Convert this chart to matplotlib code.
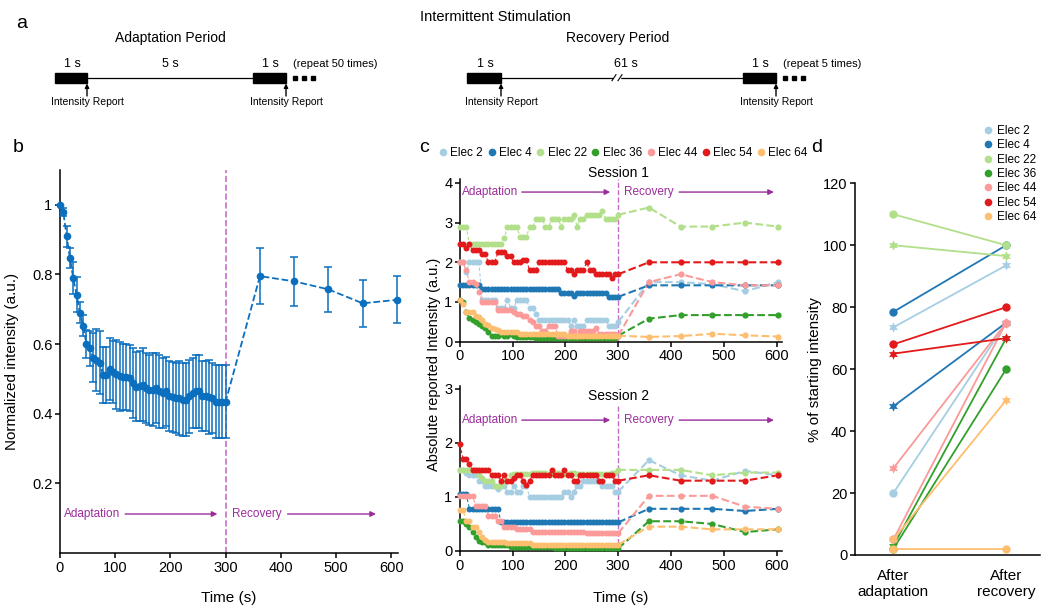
import matplotlib.pyplot as plt
from matplotlib.patches import Rectangle
from matplotlib.lines import Line2D
import numpy as np

plt.rcParams['font.family'] = ['Liberation Sans', 'DejaVu Sans']

# ---- panel b: normalized intensity averaged over electrodes ----
b_adapt_time = np.arange(0, 301, 6)          # one report every 6 s
b_rec_time = [362, 424, 486, 548, 610]
b_adapt_mean = [1.0, 0.98, 0.91, 0.847, 0.79, 0.742, 0.69, 0.652, 0.60, 0.588,
                0.561, 0.554, 0.547, 0.511, 0.511, 0.528, 0.52, 0.513, 0.507, 0.505,
                0.505, 0.502, 0.488, 0.478, 0.48, 0.483, 0.473, 0.469, 0.469, 0.473,
                0.464, 0.459, 0.464, 0.45, 0.448, 0.445, 0.445, 0.44, 0.44, 0.45,
                0.459, 0.464, 0.464, 0.45, 0.45, 0.448, 0.445, 0.435, 0.435, 0.435,
                0.435]
b_adapt_err = [0.0, 0.012, 0.03, 0.03, 0.045, 0.05, 0.03, 0.03, 0.04, 0.05,
               0.07, 0.09, 0.09, 0.08, 0.08, 0.09, 0.09, 0.1, 0.1, 0.095,
               0.095, 0.095, 0.1, 0.1, 0.1, 0.105, 0.1, 0.1, 0.105, 0.1,
               0.105, 0.1, 0.1, 0.1, 0.1, 0.1, 0.105, 0.105, 0.105, 0.105,
               0.1, 0.105, 0.105, 0.1, 0.1, 0.105, 0.1, 0.105, 0.105, 0.105,
               0.105]
b_rec_mean = [0.795, 0.78, 0.757, 0.717, 0.727]
b_rec_err = [0.08, 0.071, 0.065, 0.068, 0.067]

# ---- panel c: absolute reported intensity per electrode ----
elec_labels = ['Elec 2', 'Elec 4', 'Elec 22', 'Elec 36', 'Elec 44', 'Elec 54', 'Elec 64']
elec_colors = ['#a6cee3', '#1f78b4', '#b2df8a', '#33a02c', '#fb9a99', '#e31a1c', '#fdbf6f']
c_adapt_time = np.arange(0, 301, 6)
c_rec_time = [358, 418, 478, 540, 602]

s1_e2 = [2.0, 2.0, 1.75, 2.0, 2.0, 2.0, 2.0, 1.05, 1.05, 1.05,
         1.05, 1.05, 0.85, 0.85, 0.85, 1.05, 0.85, 0.85, 1.05, 1.05,
         1.05, 1.05, 0.85, 0.85, 0.7, 0.55, 0.55, 0.55, 0.55, 0.55,
         0.55, 0.55, 0.55, 0.55, 0.55, 0.4, 0.55, 0.4, 0.4, 0.4,
         0.55, 0.55, 0.55, 0.55, 0.55, 0.55, 0.55, 0.4, 0.4, 0.4,
         0.5]
s1_e4 = [1.42, 1.42, 1.42, 1.42, 1.42, 1.42, 1.42, 1.33, 1.33, 1.33,
         1.33, 1.33, 1.33, 1.33, 1.33, 1.33, 1.33, 1.33, 1.33, 1.33,
         1.33, 1.33, 1.33, 1.33, 1.33, 1.33, 1.33, 1.33, 1.33, 1.33,
         1.33, 1.33, 1.22, 1.22, 1.22, 1.22, 1.15, 1.22, 1.22, 1.22,
         1.22, 1.22, 1.22, 1.22, 1.22, 1.22, 1.22, 1.13, 1.13, 1.13,
         1.13]
s1_e22 = [2.9, 2.9, 2.9, 2.45, 2.45, 2.45, 2.45, 2.45, 2.45, 2.45,
          2.45, 2.45, 2.45, 2.45, 2.6, 2.9, 2.9, 2.9, 2.9, 2.63,
          2.63, 2.63, 2.9, 2.9, 3.1, 3.1, 3.1, 2.9, 2.9, 3.1,
          3.1, 3.1, 2.9, 3.1, 3.1, 3.1, 3.2, 2.9, 3.1, 3.1,
          3.2, 3.2, 3.2, 3.2, 3.2, 3.3, 3.1, 3.1, 3.1, 3.1,
          3.2]
s1_e36 = [1.05, 1.0, 0.75, 0.6, 0.55, 0.5, 0.45, 0.4, 0.35, 0.25,
          0.15, 0.15, 0.15, 0.2, 0.15, 0.15, 0.2, 0.15, 0.12, 0.12,
          0.12, 0.12, 0.12, 0.12, 0.1, 0.1, 0.1, 0.1, 0.1, 0.1,
          0.1, 0.1, 0.1, 0.1, 0.1, 0.08, 0.08, 0.08, 0.08, 0.08,
          0.08, 0.08, 0.08, 0.08, 0.08, 0.08, 0.08, 0.08, 0.08, 0.08,
          0.15]
s1_e44 = [2.0, 2.0, 1.8, 1.5, 1.5, 1.45, 1.25, 1.0, 1.0, 1.0,
          1.0, 1.0, 0.8, 0.8, 0.8, 0.8, 0.8, 0.75, 0.7, 0.7,
          0.65, 0.65, 0.55, 0.5, 0.4, 0.4, 0.27, 0.27, 0.4, 0.4,
          0.4, 0.15, 0.15, 0.15, 0.15, 0.27, 0.27, 0.15, 0.27, 0.27,
          0.27, 0.27, 0.27, 0.35, 0.2, 0.2, 0.2, 0.2, 0.2, 0.2,
          0.15]
s1_e54 = [2.45, 2.45, 2.35, 2.45, 2.3, 2.3, 2.3, 2.2, 2.2, 2.0,
          2.0, 2.0, 2.25, 2.25, 2.25, 2.15, 2.15, 2.0, 2.0, 2.0,
          2.05, 2.05, 1.8, 1.8, 1.8, 2.0, 2.0, 2.0, 2.0, 2.0,
          2.0, 2.0, 2.0, 2.0, 1.8, 1.8, 1.7, 1.8, 1.8, 1.8,
          2.0, 1.8, 1.8, 1.7, 1.7, 1.7, 1.7, 1.7, 1.6, 1.7,
          1.7]
s1_e64 = [1.05, 0.95, 0.75, 0.75, 0.75, 0.65, 0.62, 0.55, 0.45, 0.42,
          0.35, 0.33, 0.3, 0.25, 0.25, 0.25, 0.25, 0.25, 0.25, 0.2,
          0.2, 0.2, 0.2, 0.2, 0.2, 0.2, 0.2, 0.2, 0.2, 0.2,
          0.2, 0.2, 0.2, 0.2, 0.15, 0.15, 0.15, 0.15, 0.15, 0.15,
          0.15, 0.15, 0.15, 0.15, 0.15, 0.15, 0.15, 0.15, 0.15, 0.15,
          0.15]

s1_rec_e2 = [1.5, 1.5, 1.45, 1.27, 1.5]
s1_rec_e4 = [1.42, 1.42, 1.42, 1.42, 1.42]
s1_rec_e22 = [3.38, 2.9, 2.9, 3.0, 2.9]
s1_rec_e36 = [0.58, 0.67, 0.67, 0.67, 0.67]
s1_rec_e44 = [1.5, 1.7, 1.5, 1.42, 1.42]
s1_rec_e54 = [2.0, 2.0, 2.0, 2.0, 2.0]
s1_rec_e64 = [0.12, 0.14, 0.2, 0.16, 0.13]

s2_e2 = [1.5, 1.5, 1.45, 1.4, 1.4, 1.4, 1.3, 1.3, 1.2, 1.2,
         1.2, 1.2, 1.15, 1.2, 1.2, 1.1, 1.1, 1.2, 1.1, 1.1,
         1.2, 1.2, 1.0, 1.0, 1.0, 1.0, 1.0, 1.0, 1.0, 1.0,
         1.0, 1.0, 1.0, 1.1, 1.1, 1.0, 1.1, 1.2, 1.2, 1.3,
         1.3, 1.3, 1.3, 1.3, 1.3, 1.2, 1.2, 1.2, 1.2, 1.1,
         1.1]
s2_e4 = [1.05, 1.05, 1.05, 0.78, 0.78, 0.78, 0.78, 0.78, 0.78, 0.78,
         0.78, 0.78, 0.78, 0.53, 0.53, 0.53, 0.53, 0.53, 0.53, 0.53,
         0.53, 0.53, 0.53, 0.53, 0.53, 0.53, 0.53, 0.53, 0.53, 0.53,
         0.53, 0.53, 0.53, 0.53, 0.53, 0.53, 0.53, 0.53, 0.53, 0.53,
         0.53, 0.53, 0.53, 0.53, 0.53, 0.53, 0.53, 0.53, 0.53, 0.53,
         0.53]
s2_e22 = [1.5, 1.5, 1.5, 1.5, 1.5, 1.5, 1.4, 1.35, 1.3, 1.3,
          1.3, 1.2, 1.2, 1.2, 1.3, 1.3, 1.4, 1.42, 1.42, 1.42,
          1.42, 1.42, 1.42, 1.45, 1.45, 1.45, 1.45, 1.45, 1.42, 1.42,
          1.45, 1.45, 1.42, 1.42, 1.42, 1.45, 1.45, 1.42, 1.42, 1.42,
          1.42, 1.42, 1.42, 1.42, 1.42, 1.42, 1.42, 1.42, 1.45, 1.45,
          1.5]
s2_e36 = [0.55, 0.55, 0.5, 0.45, 0.35, 0.25, 0.18, 0.17, 0.17, 0.12,
          0.12, 0.12, 0.12, 0.12, 0.12, 0.12, 0.08, 0.08, 0.08, 0.08,
          0.08, 0.08, 0.08, 0.08, 0.08, 0.08, 0.08, 0.08, 0.08, 0.08,
          0.05, 0.05, 0.05, 0.05, 0.05, 0.05, 0.05, 0.05, 0.05, 0.05,
          0.05, 0.05, 0.05, 0.05, 0.05, 0.05, 0.05, 0.05, 0.05, 0.05,
          0.05]
s2_e44 = [1.02, 1.02, 1.02, 1.02, 1.02, 0.83, 0.83, 0.83, 0.83, 0.65,
          0.65, 0.65, 0.55, 0.55, 0.45, 0.45, 0.45, 0.45, 0.4, 0.4,
          0.4, 0.4, 0.4, 0.35, 0.35, 0.35, 0.35, 0.35, 0.35, 0.35,
          0.35, 0.35, 0.35, 0.35, 0.35, 0.35, 0.35, 0.35, 0.35, 0.35,
          0.33, 0.33, 0.33, 0.33, 0.33, 0.33, 0.33, 0.33, 0.33, 0.33,
          0.33]
s2_e54 = [1.97, 1.7, 1.7, 1.6, 1.5, 1.5, 1.5, 1.5, 1.5, 1.5,
          1.4, 1.4, 1.4, 1.3, 1.4, 1.3, 1.3, 1.35, 1.4, 1.4,
          1.3, 1.22, 1.3, 1.4, 1.4, 1.4, 1.4, 1.4, 1.4, 1.5,
          1.4, 1.4, 1.4, 1.5, 1.4, 1.4, 1.3, 1.3, 1.4, 1.4,
          1.4, 1.4, 1.4, 1.4, 1.3, 1.3, 1.4, 1.4, 1.4, 1.3,
          1.3]
s2_e64 = [0.75, 0.75, 0.55, 0.55, 0.45, 0.45, 0.35, 0.25, 0.2, 0.17,
          0.17, 0.17, 0.17, 0.17, 0.17, 0.15, 0.15, 0.15, 0.15, 0.15,
          0.15, 0.15, 0.15, 0.12, 0.12, 0.12, 0.12, 0.12, 0.12, 0.12,
          0.12, 0.12, 0.12, 0.12, 0.12, 0.12, 0.12, 0.12, 0.12, 0.12,
          0.12, 0.12, 0.12, 0.12, 0.12, 0.12, 0.12, 0.12, 0.12, 0.12,
          0.12]

s2_rec_e2 = [1.68, 1.4, 1.3, 1.48, 1.4]
s2_rec_e4 = [0.78, 0.78, 0.78, 0.74, 0.78]
s2_rec_e22 = [1.5, 1.5, 1.4, 1.45, 1.45]
s2_rec_e36 = [0.55, 0.55, 0.5, 0.35, 0.4]
s2_rec_e44 = [1.02, 1.02, 1.02, 0.82, 0.78]
s2_rec_e54 = [1.4, 1.3, 1.3, 1.3, 1.4]
s2_rec_e64 = [0.45, 0.45, 0.4, 0.4, 0.4]

session1 = [s1_e2, s1_e4, s1_e22, s1_e36, s1_e44, s1_e54, s1_e64]
session1_rec = [s1_rec_e2, s1_rec_e4, s1_rec_e22, s1_rec_e36, s1_rec_e44, s1_rec_e54, s1_rec_e64]
session2 = [s2_e2, s2_e4, s2_e22, s2_e36, s2_e44, s2_e54, s2_e64]
session2_rec = [s2_rec_e2, s2_rec_e4, s2_rec_e22, s2_rec_e36, s2_rec_e44, s2_rec_e54, s2_rec_e64]

# ---- panel d: % of starting intensity (circle = session 1, star = session 2) ----
d_categories = ['After\nadaptation', 'After\nrecovery']
d_s1_adapt = [20, 78.5, 110, 2, 5, 68, 2]
d_s1_rec = [75, 100, 100, 60, 75, 80, 2]
d_s2_adapt = [73.5, 48, 100, 3, 28, 65, 5]
d_s2_rec = [93.5, 75, 96.5, 70, 75, 70, 50]

blue = '#0b6fbf'
purple = '#9b2d9b'
vline_col = '#c86ec8'
star6 = (6, 1, 0)


def style_axes(ax):
    for s in ['top', 'right']:
        ax.spines[s].set_visible(False)
    for s in ['left', 'bottom']:
        ax.spines[s].set_linewidth(1.1)
    ax.tick_params(direction='out', length=3.5, width=1.1, labelsize=10.5, pad=2)


fig = plt.figure(figsize=(10.5, 6.11), dpi=100)

# ---- panel a: stimulation schematic, drawn in pixel coordinates ----
ax_a = fig.add_axes([0, 0, 1, 1])
ax_a.set_xlim(0, 1050)
ax_a.set_ylim(611, 0)
ax_a.axis('off')

ax_a.text(22, 24, 'a', fontsize=14, ha='center', va='center')
ax_a.text(18, 148, 'b', fontsize=14, ha='center', va='center')
ax_a.text(424, 148, 'c', fontsize=14, ha='center', va='center')
ax_a.text(817, 148, 'd', fontsize=14, ha='center', va='center')
ax_a.text(495, 17, 'Intermittent Stimulation', fontsize=10.5, ha='center', va='center')


def schematic(ax, x0, x1, x2, x3, gap_label, title, repeat, title_x, brk=None):
    y = 77.7
    ax.text(title_x, 38, title, fontsize=10, ha='center', va='center')
    ax.plot([x1, x2], [y, y], color='black', lw=0.9)
    for a, b in [(x0, x1), (x2, x3)]:
        ax.add_patch(Rectangle((a, y - 5), b - a, 10, color='black'))
        ax.text((a + b) / 2 + 1, 64, '1 s', fontsize=9, ha='center', va='center')
        ax.annotate('', xy=(b, 83.5), xytext=(b, 96),
                    arrowprops=dict(arrowstyle='-|>', color='black', lw=1,
                                    mutation_scale=6, shrinkA=0, shrinkB=0))
        ax.text(b, 102, 'Intensity Report', fontsize=7.5, ha='center', va='center')
    ax.text((x1 + x2) / 2 + (4 if brk else 0), 64, gap_label, fontsize=9,
            ha='center', va='center')
    ax.text(x3 + 7, 64, repeat, fontsize=8, ha='left', va='center')
    ax.plot([x3 + 9, x3 + 18, x3 + 27], [y, y, y], 's', color='black', ms=2.2)
    if brk:
        ax.add_patch(Rectangle((brk - 3, y - 2), 6, 4, color='white', zorder=3))
        ax.plot([brk - 5, brk - 1], [y + 3, y - 3], color='black', lw=0.8, zorder=4)
        ax.plot([brk + 1, brk + 5], [y + 3, y - 3], color='black', lw=0.8, zorder=4)


schematic(ax_a, 55, 87, 253, 286, '5 s', 'Adaptation Period', '(repeat 50 times)', 170)
schematic(ax_a, 467, 501, 743, 776, '61 s', 'Recovery Period', '(repeat 5 times)', 618, brk=617)

# ---- panel b ----
ax_b = fig.add_axes([0.0571, 0.0949, 0.322, 0.627])
style_axes(ax_b)
b_time = list(b_adapt_time) + b_rec_time
ax_b.errorbar(b_time, b_adapt_mean + b_rec_mean, yerr=b_adapt_err + b_rec_err,
              fmt='o--', color=blue, ms=4.5, lw=1.3, elinewidth=1.1, capsize=3,
              capthick=1.1, clip_on=False, zorder=3)
ax_b.axvline(300, color=vline_col, ls='--', lw=1.2, zorder=1)
ax_b.set_xlim(0, 612)
ax_b.set_ylim(0, 1.1)
ax_b.set_xticks([0, 100, 200, 300, 400, 500, 600])
ax_b.set_yticks([0.2, 0.4, 0.6, 0.8, 1.0])
ax_b.set_yticklabels(['0.2', '0.4', '0.6', '0.8', '1'])
ax_b.set_xlabel('Time (s)', fontsize=11)
ax_b.set_ylabel('Normalized intensity (a.u.)', fontsize=11)
ax_b.yaxis.set_label_coords(-0.12, 0.5)
ax_b.xaxis.set_label_coords(0.5, -0.1)
ax_b.text(8, 0.112, 'Adaptation', color=purple, fontsize=8.5, va='center')
ax_b.annotate('', xy=(290, 0.112), xytext=(113, 0.112),
              arrowprops=dict(arrowstyle='-|>', color=purple, lw=1, mutation_scale=8))
ax_b.text(311, 0.112, 'Recovery', color=purple, fontsize=8.5, va='center')
ax_b.annotate('', xy=(577, 0.112), xytext=(407, 0.112),
              arrowprops=dict(arrowstyle='-|>', color=purple, lw=1, mutation_scale=8))

# ---- panel c ----
ax_c1 = fig.add_axes([0.438, 0.4408, 0.3067, 0.2663])
ax_c2 = fig.add_axes([0.438, 0.0982, 0.3067, 0.2700])
panels = [(ax_c1, session1, session1_rec, 4.1, 'Session 1', 4.25, 3.77, 4.1),
          (ax_c2, session2, session2_rec, 3.05, 'Session 2', 2.86, 2.42, 2.68)]
for ax, adapt, rec, ytop, title, title_y, arrow_y, vtop in panels:
    style_axes(ax)
    for vals, rvals, col, lab in zip(adapt, rec, elec_colors, elec_labels):
        ax.plot(c_adapt_time, vals, ls=(0, (3, 2)), lw=0.8, color=col, marker='o',
                ms=4.3, mec='none', zorder=3, clip_on=False)
        ax.plot([c_adapt_time[-1]] + c_rec_time, [vals[-1]] + rvals, ls='--', lw=1.5,
                color=col, zorder=3, clip_on=False)
        ax.plot(c_rec_time, rvals, 'o', color=col, ms=4.5, mec='none', zorder=4,
                clip_on=False)
    ax.plot([300, 300], [0, vtop], color=vline_col, ls='--', lw=1.0, zorder=2,
            clip_on=False)
    ax.set_xlim(0, 610)
    ax.set_ylim(0, ytop)
    ax.set_xticks([0, 100, 200, 300, 400, 500, 600])
    ax.set_yticks(range(int(ytop) + 1))
    ax.text(300, title_y, title, fontsize=10, ha='center', va='center')
    ax.text(3, arrow_y, 'Adaptation', color=purple, fontsize=8.5, va='center')
    ax.annotate('', xy=(290, arrow_y), xytext=(112, arrow_y),
                arrowprops=dict(arrowstyle='-|>', color=purple, lw=1, mutation_scale=8))
    ax.text(311, arrow_y, 'Recovery', color=purple, fontsize=8.5, va='center')
    ax.annotate('', xy=(600, arrow_y), xytext=(410, arrow_y),
                arrowprops=dict(arrowstyle='-|>', color=purple, lw=1, mutation_scale=8))

ax_c2.set_xlabel('Time (s)', fontsize=11)
ax_c2.xaxis.set_label_coords(0.5, -0.24)
fig.text(0.4135, 0.403, 'Absolute reported Intensity (a.u.)', rotation=90,
         fontsize=10.5, ha='center', va='center')

c_handles = [Line2D([], [], ls='none', marker='o', ms=5.5, color=col, mec='none', label=lab)
             for col, lab in zip(elec_colors, elec_labels)]
fig.legend(handles=c_handles, loc='center', bbox_to_anchor=(0.594, 0.75), ncol=7,
           frameon=False, fontsize=8.5, handlelength=0.6, handletextpad=0.3,
           columnspacing=0.45, borderpad=0)

# ---- panel d ----
ax_d = fig.add_axes([0.8143, 0.0917, 0.1762, 0.6083])
style_axes(ax_d)
xpos = [0, 1]
for i, col in enumerate(elec_colors):
    ax_d.plot(xpos, [d_s1_adapt[i], d_s1_rec[i]], '-', color=col, lw=1.3,
              marker='o', ms=6, mec='none', clip_on=False, zorder=3)
    ax_d.plot(xpos, [d_s2_adapt[i], d_s2_rec[i]], '-', color=col, lw=1.3,
              marker=star6, ms=7.5, mec='none', clip_on=False, zorder=3)
ax_d.set_xlim(-0.34, 1.3)
ax_d.set_ylim(0, 120)
ax_d.set_yticks([0, 20, 40, 60, 80, 100, 120])
ax_d.set_xticks(xpos)
ax_d.set_xticklabels(d_categories, fontsize=11)
ax_d.tick_params(axis='x', length=0, pad=10)
ax_d.set_ylabel('% of starting intensity', fontsize=11)
ax_d.yaxis.set_label_coords(-0.18, 0.5)
d_handles = [Line2D([], [], ls='none', marker='o', ms=5.5, color=col, mec='none', label=lab)
             for col, lab in zip(elec_colors, elec_labels)]
fig.legend(handles=d_handles, loc='upper left', bbox_to_anchor=(0.932, 0.805),
           frameon=False, fontsize=8.5, handlelength=0.6, handletextpad=0.5,
           labelspacing=0.2, borderpad=0)

fig.savefig('out.png', dpi=100)
